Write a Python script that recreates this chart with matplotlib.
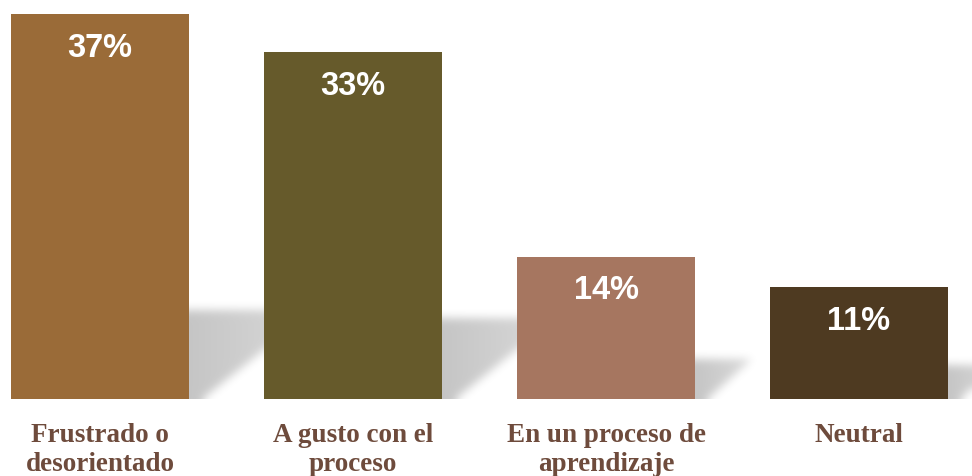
import numpy as np
import matplotlib
matplotlib.use("Agg")
import matplotlib.pyplot as plt
from matplotlib.path import Path

categories = ["Frustrado o\ndesorientado", "A gusto con el\nproceso",
              "En un proceso de\naprendizaje", "Neutral"]
values = [37.0, 33.4, 13.7, 10.8]
colors = ["#9a6b38", "#665a2b", "#a67660", "#4e3a21"]

W, H = 972, 477
fig = plt.figure(figsize=(W / 100, H / 100), dpi=100)
ax_h_px = 400
ax = fig.add_axes([0, (H - ax_h_px) / H, 1, ax_h_px / H])
x = np.arange(len(values))
pitch = 253.0
width = 178 / pitch
xlim = (-100 / pitch, (W - 100) / pitch)
ylim = (0, 38.46)
ax.set_xlim(*xlim)
ax.set_ylim(*ylim)

bars = ax.bar(x, values, width=width, color=colors, zorder=3)

# soft perspective shadows cast to the right
sx = W / (xlim[1] - xlim[0])
sy = ax_h_px / (ylim[1] - ylim[0])
nx, ny = W, ax_h_px
gx = xlim[0] + (np.arange(nx) + 0.5) / nx * (xlim[1] - xlim[0])
gy = ylim[0] + (np.arange(ny) + 0.5) / ny * (ylim[1] - ylim[0])
GX, GY = np.meshgrid(gx, gy)
pts = np.column_stack([GX.ravel(), GY.ravel()])
mask = np.zeros(GX.shape)
for xi, v in zip(x, values):
    x0, x1 = xi - width / 2, xi + width / 2
    hpx = v * sy
    dy_px = 0.2 * hpx + 12
    dx_px = 1.4 * dy_px
    dy, dx = dy_px / sy, dx_px / sx
    poly = Path([(x0, -1), (x1, -1), (x1 + dx, dy), (x0 + dx, dy), (x0, -1)])
    m = poly.contains_points(pts).reshape(GX.shape).astype(float)
    # fade along the shadow length
    fade = np.clip(1 - np.clip((GX - x1) / (dx + 1e-9), 0, None) * 0.35, 0, 1)
    mask = np.maximum(mask, m * fade)

sigma = 4.5
k = np.arange(-15, 16)
kern = np.exp(-k ** 2 / (2 * sigma ** 2))
kern /= kern.sum()
pad = 20
mp = np.pad(mask, pad, mode="edge")
mp = np.apply_along_axis(lambda r: np.convolve(r, kern, mode="same"), 1, mp)
mp = np.apply_along_axis(lambda c: np.convolve(c, kern, mode="same"), 0, mp)
blur = mp[pad:-pad, pad:-pad]
rgba = np.zeros((ny, nx, 4))
rgba[..., :3] = 0.0
rgba[..., 3] = blur * 0.23
ax.imshow(rgba, origin="lower", extent=(*xlim, *ylim), aspect="auto",
          zorder=1, interpolation="bilinear")

for xi, v in zip(x, values):
    ax.annotate(f"{round(v)}%", xy=(xi, v), xytext=(0, -30.2),
                textcoords="offset points", ha="center", va="baseline",
                color="white", fontweight="bold", fontsize=23.5,
                family="Liberation Sans", zorder=5)

ax.set_xticks(x)
ax.set_xticklabels(categories, fontsize=19.5, family="Liberation Serif",
                   fontweight="bold", color="#6e4b3c", linespacing=1.22)
ax.tick_params(axis="x", length=0, pad=16.5)
ax.set_yticks([])
for s in ax.spines.values():
    s.set_visible(False)
ax.set_xlim(*xlim)
ax.set_ylim(*ylim)

fig.savefig("out.png", dpi=100)
